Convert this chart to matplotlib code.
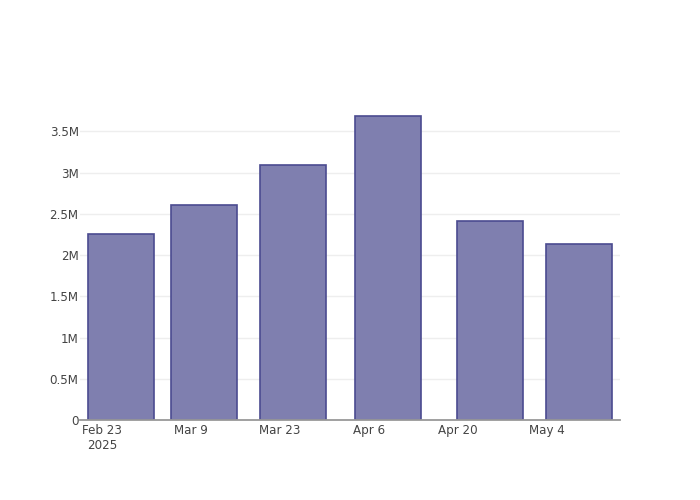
import matplotlib
matplotlib.use("Agg")
import matplotlib.pyplot as plt
import pandas as pd

# Data
dates = ["2025-02-26", "2025-03-11", "2025-03-25", "2025-04-09", "2025-04-25", "2025-05-09"]
values = [2.258e6, 2.606e6, 3.095e6, 3.689e6, 2.416e6, 2.133e6]
tick_dates = ["2025-02-23", "2025-03-09", "2025-03-23", "2025-04-06", "2025-04-20", "2025-05-04"]
tick_labels = ["Feb 23\n2025", "Mar 9", "Mar 23", "Apr 6", "Apr 20", "May 4"]
y_ticks = [0, 0.5e6, 1e6, 1.5e6, 2e6, 2.5e6, 3e6, 3.5e6]
y_labels = ["0", "0.5M", "1M", "1.5M", "2M", "2.5M", "3M", "3.5M"]

x = pd.to_datetime(dates)
plt.rcParams['font.family'] = ['DejaVu Sans']

fig = plt.figure(figsize=(7, 5), dpi=100)
ax = fig.add_axes([80 / 700, 80 / 500, 540 / 700, 320 / 500])

# plotly-style bar width: 0.8 of the smallest gap between dates
bar_width = 0.8 * pd.Series(x).diff().dt.days.min()
ax.bar(x, values, width=bar_width, color="#7f7faf", edgecolor="#4b4b90",
       linewidth=1.2, zorder=3)

ax.set_xlim(pd.Timestamp("2025-02-23") - pd.Timedelta(days=3.48),
            pd.Timestamp("2025-02-23") + pd.Timedelta(days=81.5))
ax.set_ylim(0, 3.879e6)

ax.set_xticks(pd.to_datetime(tick_dates))
ax.set_xticklabels(tick_labels)
for lbl in ax.get_xticklabels():
    lbl.set_horizontalalignment("center")
    lbl.set_multialignment("center")
ax.set_yticks(y_ticks)
ax.set_yticklabels(y_labels)

ax.tick_params(axis="both", length=0, labelsize=8.6, labelcolor="#444444")
ax.tick_params(axis="x", pad=3)
ax.tick_params(axis="y", pad=1)
ax.grid(axis="y", color="#eeeeee", linewidth=1, zorder=0)

for side in ["top", "right", "left"]:
    ax.spines[side].set_visible(False)
ax.spines["bottom"].set_color("#999999")
ax.spines["bottom"].set_linewidth(1.3)
ax.spines["bottom"].set_zorder(4)

fig.savefig("out.png", dpi=100)
